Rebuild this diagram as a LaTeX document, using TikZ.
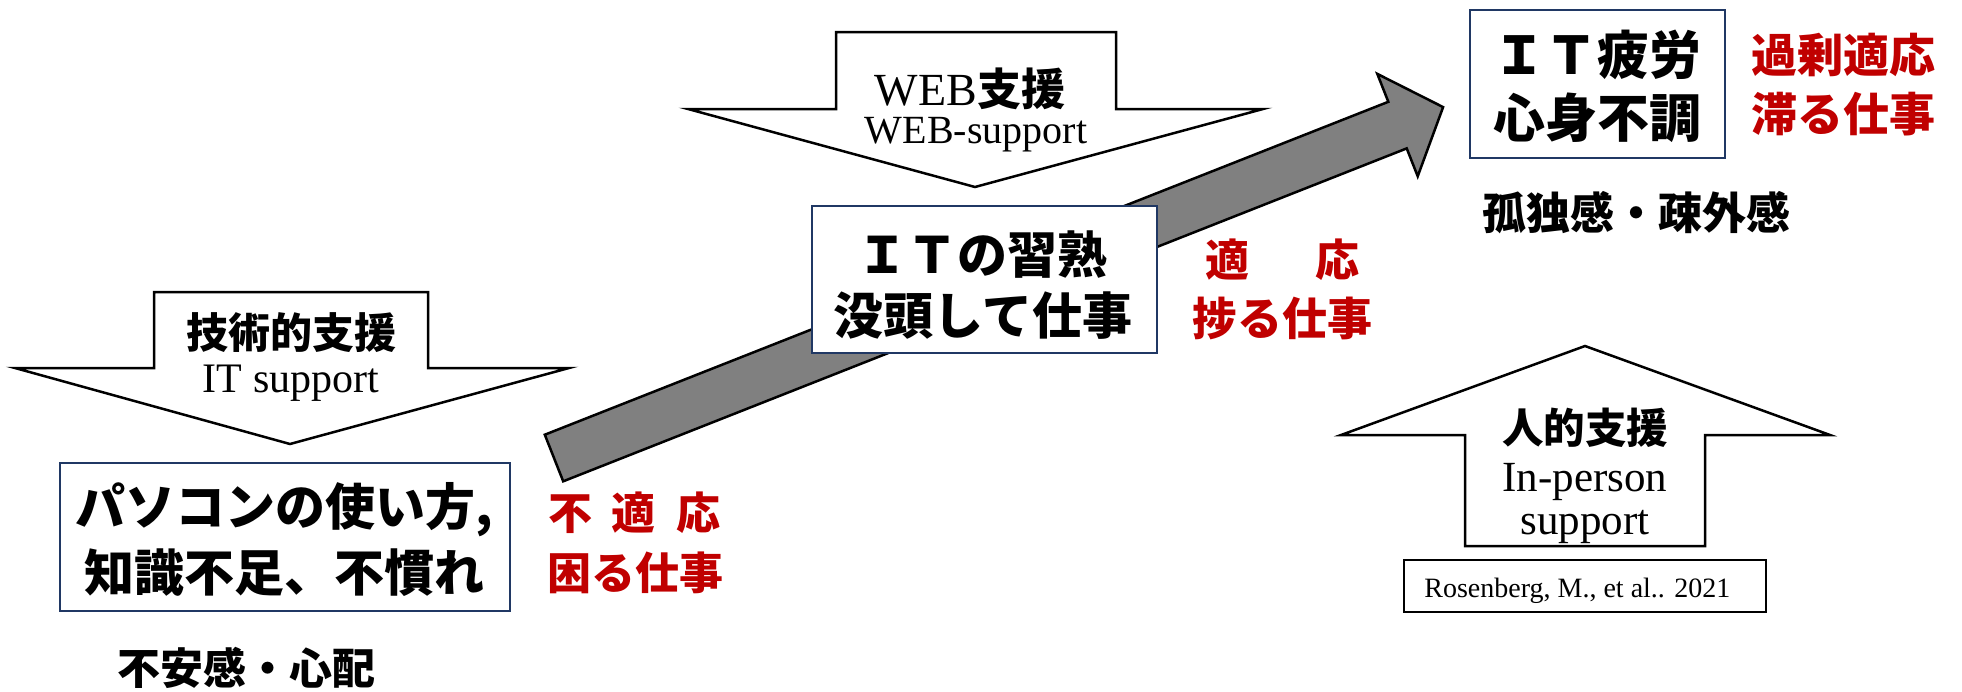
\documentclass[tikz,border=0pt]{standalone}
\usepackage{fontspec}
\setmainfont{Liberation Serif}
\newfontfamily\cjk{Noto Sans CJK JP}
\definecolor{boxblue}{RGB}{32,56,100}
\definecolor{redtxt}{RGB}{192,0,0}
\definecolor{arrowgray}{RGB}{128,128,128}
\newcommand{\jsz}[1]{\cjk\bfseries\fontsize{#1}{#1}\selectfont}
\newcommand{\lsz}[1]{\rmfamily\fontsize{#1}{#1}\selectfont}
\begin{document}
\begin{tikzpicture}[x=0.5pt,y=-0.5pt,
  outline/.style={draw=black,line width=1.25pt,line join=miter,fill=white},
  grayarrow/.style={draw=black,line width=1.25pt,line join=miter,fill=arrowgray},
  bluebox/.style={draw=boxblue,line width=1pt,fill=white,inner sep=0pt},
  refbox/.style={draw=black,line width=1pt,fill=white,inner sep=0pt},
  txt/.style={inner sep=0pt,align=center},
  redt/.style={inner sep=0pt,text=redtxt}]
\useasboundingbox (0,0) rectangle (1962,691);

% WEB support arrow (down)
\draw[outline] (836,32) -- (1116,32) -- (1116,109) -- (1263,109) -- (975,187)
  -- (688,109) -- (836,109) -- cycle;
% IT support arrow (down)
\draw[outline] (154,292) -- (428,292) -- (428,368) -- (569,368) -- (290,444)
  -- (15,368) -- (154,368) -- cycle;
% In-person support arrow (up)
\draw[outline] (1465,546) -- (1465,435) -- (1341,435) -- (1585,346) -- (1830,435)
  -- (1705,435) -- (1705,546) -- cycle;
% big gray progress arrow
\draw[grayarrow] (544.8,434.7) -- (1388.3,101.8) -- (1377.3,73.9) -- (1443.1,107.1)
  -- (1417.7,176.3) -- (1406.7,148.4) -- (563.2,481.3) -- cycle;

% boxes
\node[bluebox,minimum width=225pt,minimum height=74pt] (box1) at (285,537) {};
\node[bluebox,minimum width=172.5pt,minimum height=73.5pt] (box2) at (984.5,279.5) {};
\node[bluebox,minimum width=127.5pt,minimum height=74pt] (box3) at (1597.5,84) {};
\node[refbox,minimum width=181pt,minimum height=26pt] (refb) at (1585,586) {};

% arrow labels
\node[txt,font=\jsz{21}] (techja) at (291,333) {技術的支援};
\node[txt,font=\lsz{21},anchor=base] (techen) at (291,392) {IT support};
\node[txt,anchor=base] (webja) at (970,105) {{\lsz{23}WEB}{\jsz{22}支援}};
\node[txt,font=\lsz{20},anchor=base] (weben) at (976,143) {WEB-support};
\node[txt,font=\jsz{20.75}] (humja) at (1585,428) {人的支援};
\node[txt,font=\lsz{21.5},anchor=base] (humen1) at (1585,491) {In-person};
\node[txt,font=\lsz{21.5},anchor=base] (humen2) at (1585,534) {support};
\node[txt,font=\lsz{14},anchor=base west] (reft) at (1424,597) {Rosenberg, M., et al.. 2021};

% box texts
\node[txt,font=\jsz{25}] (b1l1) at (284,510) {パソコンの使い方,};
\node[txt,font=\jsz{25}] (b1l2) at (284,573) {知識不足、不慣れ};
\node[txt,font=\jsz{25}] (b2l1) at (982,255) {ＩＴの習熟};
\node[txt,font=\jsz{25}] (b2l2) at (983,316) {没頭して仕事};
\node[txt,font=\jsz{26}] (b3l1) at (1597,55) {ＩＴ疲労};
\node[txt,font=\jsz{26}] (b3l2) at (1597,118) {心身不調};

% feelings
\node[txt,font=\jsz{21.5}] (feel1) at (246,668) {不安感・心配};
\node[txt,font=\jsz{22}] (feel2) at (1636,213) {孤独感・疎外感};

% red labels
\node[redt,font=\jsz{22}] (r1a) at (634,513) {不\hspace{10pt}適\hspace{10pt}応};
\node[redt,font=\jsz{22}] (r1b) at (635,573) {困る仕事};
\node[redt,font=\jsz{22}] (r2a) at (1282,260) {適\hspace{33pt}応};
\node[redt,font=\jsz{22.5}] (r2b) at (1282,318) {捗る仕事};
\node[redt,font=\jsz{23},anchor=west] (r3a) at (1751,55) {過剰適応};
\node[redt,font=\jsz{23},anchor=west] (r3b) at (1751,114) {滞る仕事};
\end{tikzpicture}
\end{document}
